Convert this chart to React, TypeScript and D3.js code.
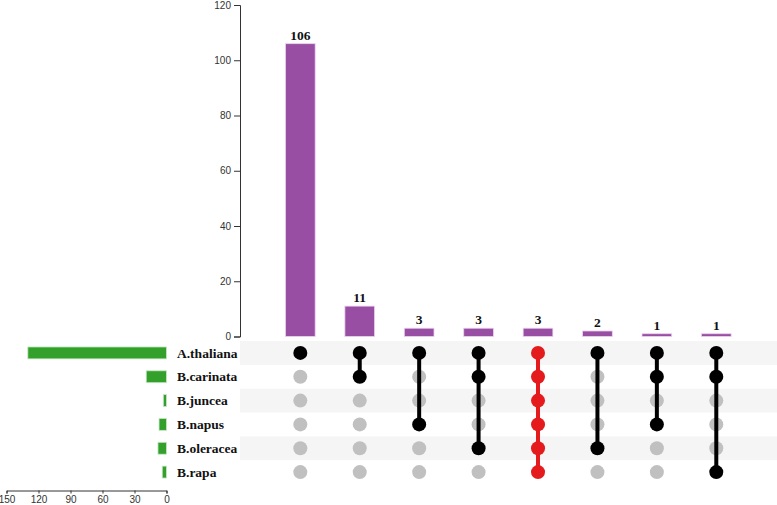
import React, { useRef, useEffect } from 'react'
import { select, scaleBand, scaleLinear, axisLeft, axisBottom } from 'd3'

// set names (rows) and their sizes
const sets = ['A.thaliana', 'B.carinata', 'B.juncea', 'B.napus', 'B.oleracea', 'B.rapa']
const setSizes = [130, 19, 3, 7, 8, 4]

// intersections (columns): which sets take part, and how many items
const comboMembers = [[0], [0, 1], [0, 3], [0, 1, 4], [0, 1, 2, 3, 4, 5], [0, 4], [0, 1, 3], [0, 1, 5]]
const comboCounts = [106, 11, 3, 3, 3, 2, 1, 1]
const highlighted = 4

const yTicks = [0, 20, 40, 60, 80, 100, 120]
const sizeTicks = [0, 30, 60, 90, 120, 150]

const W = 777
const H = 505

const App = () => {
    const svgRef = useRef(null)

    useEffect(() => {
        const svg = select(svgRef.current)
        svg.selectAll('*').remove()

        const xScale = scaleBand()
            .domain(comboCounts.map((d, i) => i))
            .range([270.6, 746])
            .paddingInner(0.5)
            .paddingOuter(0.25)

        const yScale = scaleLinear()
            .domain([0, 120])
            .range([336.5, 5])

        const rowScale = scaleBand()
            .domain(sets.map((d, i) => i))
            .range([341, 484])

        const sizeScale = scaleLinear()
            .domain([0, 150])
            .range([166.5, 6.5])

        // stripes behind the matrix
        svg.append('g')
            .selectAll('rect')
            .data(sets)
            .join('rect')
            .attr('x', 240)
            .attr('y', (d, i) => rowScale(i))
            .attr('width', W - 240)
            .attr('height', rowScale.bandwidth())
            .attr('fill', (d, i) => i % 2 === 0 ? '#f5f5f5' : 'none')

        // intersection bars
        svg.append('g')
            .selectAll('rect')
            .data(comboCounts)
            .join('rect')
            .attr('x', (d, i) => xScale(i))
            .attr('y', d => yScale(d))
            .attr('width', xScale.bandwidth())
            .attr('height', d => yScale(0) - yScale(d))
            .attr('fill', '#984ea3')
            .attr('stroke', '#ecd3ef')
            .attr('stroke-width', 0.8)

        svg.append('g')
            .selectAll('text')
            .data(comboCounts)
            .join('text')
            .attr('x', (d, i) => xScale(i) + xScale.bandwidth() / 2)
            .attr('y', d => yScale(d) - 4)
            .attr('text-anchor', 'middle')
            .style('font', 'bold 13.5px "Liberation Serif", "Times New Roman", serif')
            .attr('fill', '#111')
            .text(d => d)

        const yAxis = svg.append('g')
            .attr('transform', 'translate(240,0)')
            .call(axisLeft(yScale).tickValues(yTicks))
        yAxis.selectAll('text').style('font', '10px "Liberation Sans", Arial, sans-serif').attr('fill', '#333')
        yAxis.selectAll('path, line').attr('stroke', '#333')

        // set size bars
        svg.append('g')
            .selectAll('rect')
            .data(setSizes)
            .join('rect')
            .attr('x', d => sizeScale(d))
            .attr('y', (d, i) => rowScale(i) + rowScale.bandwidth() * 0.25)
            .attr('width', d => sizeScale(0) - sizeScale(d))
            .attr('height', rowScale.bandwidth() * 0.5)
            .attr('fill', '#33a02c')
            .attr('stroke', '#c9e8c5')
            .attr('stroke-width', 0.8)

        svg.append('g')
            .selectAll('text')
            .data(sets)
            .join('text')
            .attr('x', 177)
            .attr('y', (d, i) => rowScale(i) + rowScale.bandwidth() / 2)
            .attr('dy', '0.35em')
            .style('font', 'bold 13.5px "Liberation Serif", "Times New Roman", serif')
            .attr('fill', '#111')
            .text(d => d)

        const sizeAxis = svg.append('g')
            .attr('transform', 'translate(0,490.5)')
            .call(axisBottom(sizeScale).tickValues(sizeTicks).tickSize(3).tickPadding(2))
        sizeAxis.selectAll('text').style('font', '10px "Liberation Sans", Arial, sans-serif').attr('fill', '#333')
        sizeAxis.selectAll('path, line').attr('stroke', '#333')

        // matrix dots and connecting lines
        const cy = i => rowScale(i) + rowScale.bandwidth() / 2
        const cols = svg.append('g')
            .selectAll('g')
            .data(comboMembers)
            .join('g')
            .attr('transform', (d, i) => `translate(${xScale(i) + xScale.bandwidth() / 2},0)`)

        cols.each(function (members, ci) {
            const col = select(this)
            const color = ci === highlighted ? '#e41a1c' : '#000'
            col.selectAll('circle.off')
                .data(sets.map((s, i) => i).filter(i => !members.includes(i)))
                .join('circle')
                .attr('class', 'off')
                .attr('cy', i => cy(i))
                .attr('r', 7)
                .attr('fill', '#c0c0c0')
            if (members.length > 1) {
                col.append('line')
                    .attr('y1', cy(Math.min(...members)))
                    .attr('y2', cy(Math.max(...members)))
                    .attr('stroke', color)
                    .attr('stroke-width', 4)
            }
            col.selectAll('circle.on')
                .data(members)
                .join('circle')
                .attr('class', 'on')
                .attr('cy', i => cy(i))
                .attr('r', 7)
                .attr('fill', color)
        })
    }, [])

    return (
        <svg ref={svgRef} width={W} height={H}
            style={{ position: 'absolute', left: 0, top: 0, background: 'white' }} />
    )
}

export default App
